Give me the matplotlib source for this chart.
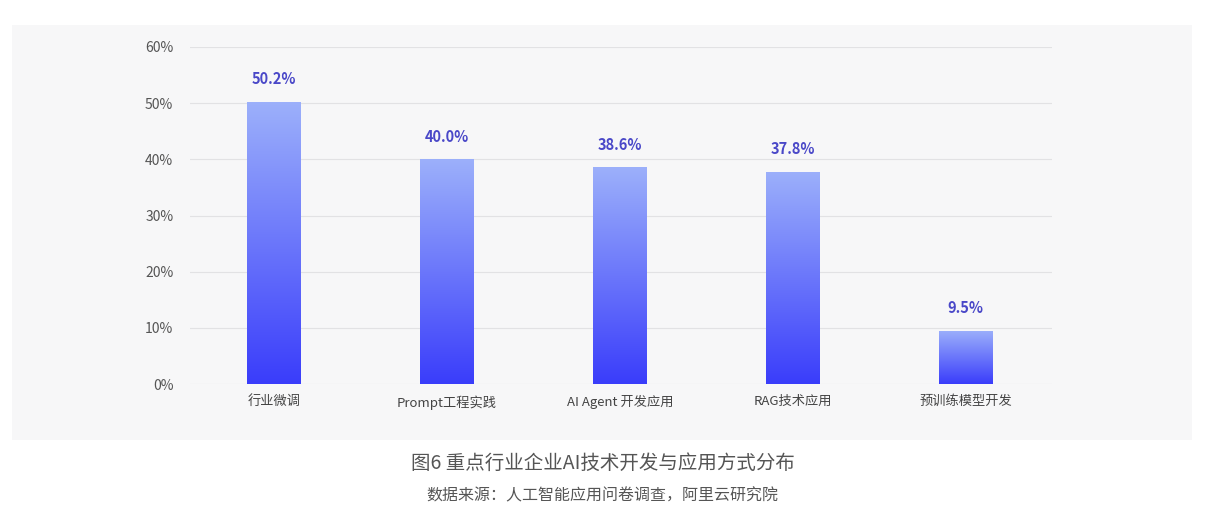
import matplotlib
matplotlib.use("Agg")
import matplotlib.pyplot as plt
import numpy as np
from matplotlib.patches import Rectangle
from matplotlib.colors import LinearSegmentedColormap

plt.rcParams['font.family'] = ['Noto Sans CJK SC', 'DejaVu Sans']

categories = ["行业微调", "Prompt工程实践", "AI Agent 开发应用", "RAG技术应用", "预训练模型开发"]
values = [50.2, 40.0, 38.6, 37.8, 9.5]
yticks = [0, 10, 20, 30, 40, 50, 60]

W, H = 1205, 521
fig = plt.figure(figsize=(W/100, H/100), dpi=100)
fig.patch.set_facecolor("white")
fig.patches.append(Rectangle((12/W, 1-440/H), 1180/W, 415/H, transform=fig.transFigure,
                             facecolor="#f7f7f8", edgecolor="none", zorder=-10))
ax = fig.add_axes([190/W, 1-384/H, 862/W, 337/H])
ax.set_facecolor("none")
ax.set_xlim(-0.486, 4.5)
ax.set_ylim(0, 60)
ax.set_yticks(yticks)
ax.set_yticklabels([f"{t}%" for t in yticks], color="#555555", fontsize=10)
ax.tick_params(axis='y', length=0, pad=12)
ax.tick_params(axis='x', length=0, pad=8)
ax.set_xticks(range(len(categories)))
ax.set_xticklabels(categories, color="#444444", fontsize=9.5)
for s in ax.spines.values():
    s.set_visible(False)
ax.grid(axis='y', color="#e2e2e4", linewidth=0.8)
ax.set_axisbelow(True)

cmap = LinearSegmentedColormap.from_list("g", ["#3a3dfb", "#9cb0fa"])
grad = np.linspace(0, 1, 256).reshape(-1, 1)
bw = 0.31
bars = ax.bar(range(len(values)), values, width=bw, color="none", zorder=2)
for b, v in zip(bars, values):
    x0 = b.get_x()
    im = ax.imshow(grad, cmap=cmap, origin="lower", aspect="auto",
                   extent=[x0, x0+bw, 0, v], zorder=2)
    im.set_clip_path(b)
    ax.text(b.get_x()+bw/2, v+2.6, f"{v:.1f}%", ha="center", va="bottom",
            color="#4a48c8", fontsize=10.5, fontweight="bold")
ax.set_xlim(-0.486, 4.5)
ax.set_ylim(0, 60)

fig.text(0.5, 1-463/H, "图6 重点行业企业AI技术开发与应用方式分布", ha="center", va="center",
         fontsize=14, color="#555555")
fig.text(0.5, 1-496/H, "数据来源：人工智能应用问卷调查，阿里云研究院", ha="center", va="center",
         fontsize=11.5, color="#555555")
fig.savefig("out.png", dpi=100)
